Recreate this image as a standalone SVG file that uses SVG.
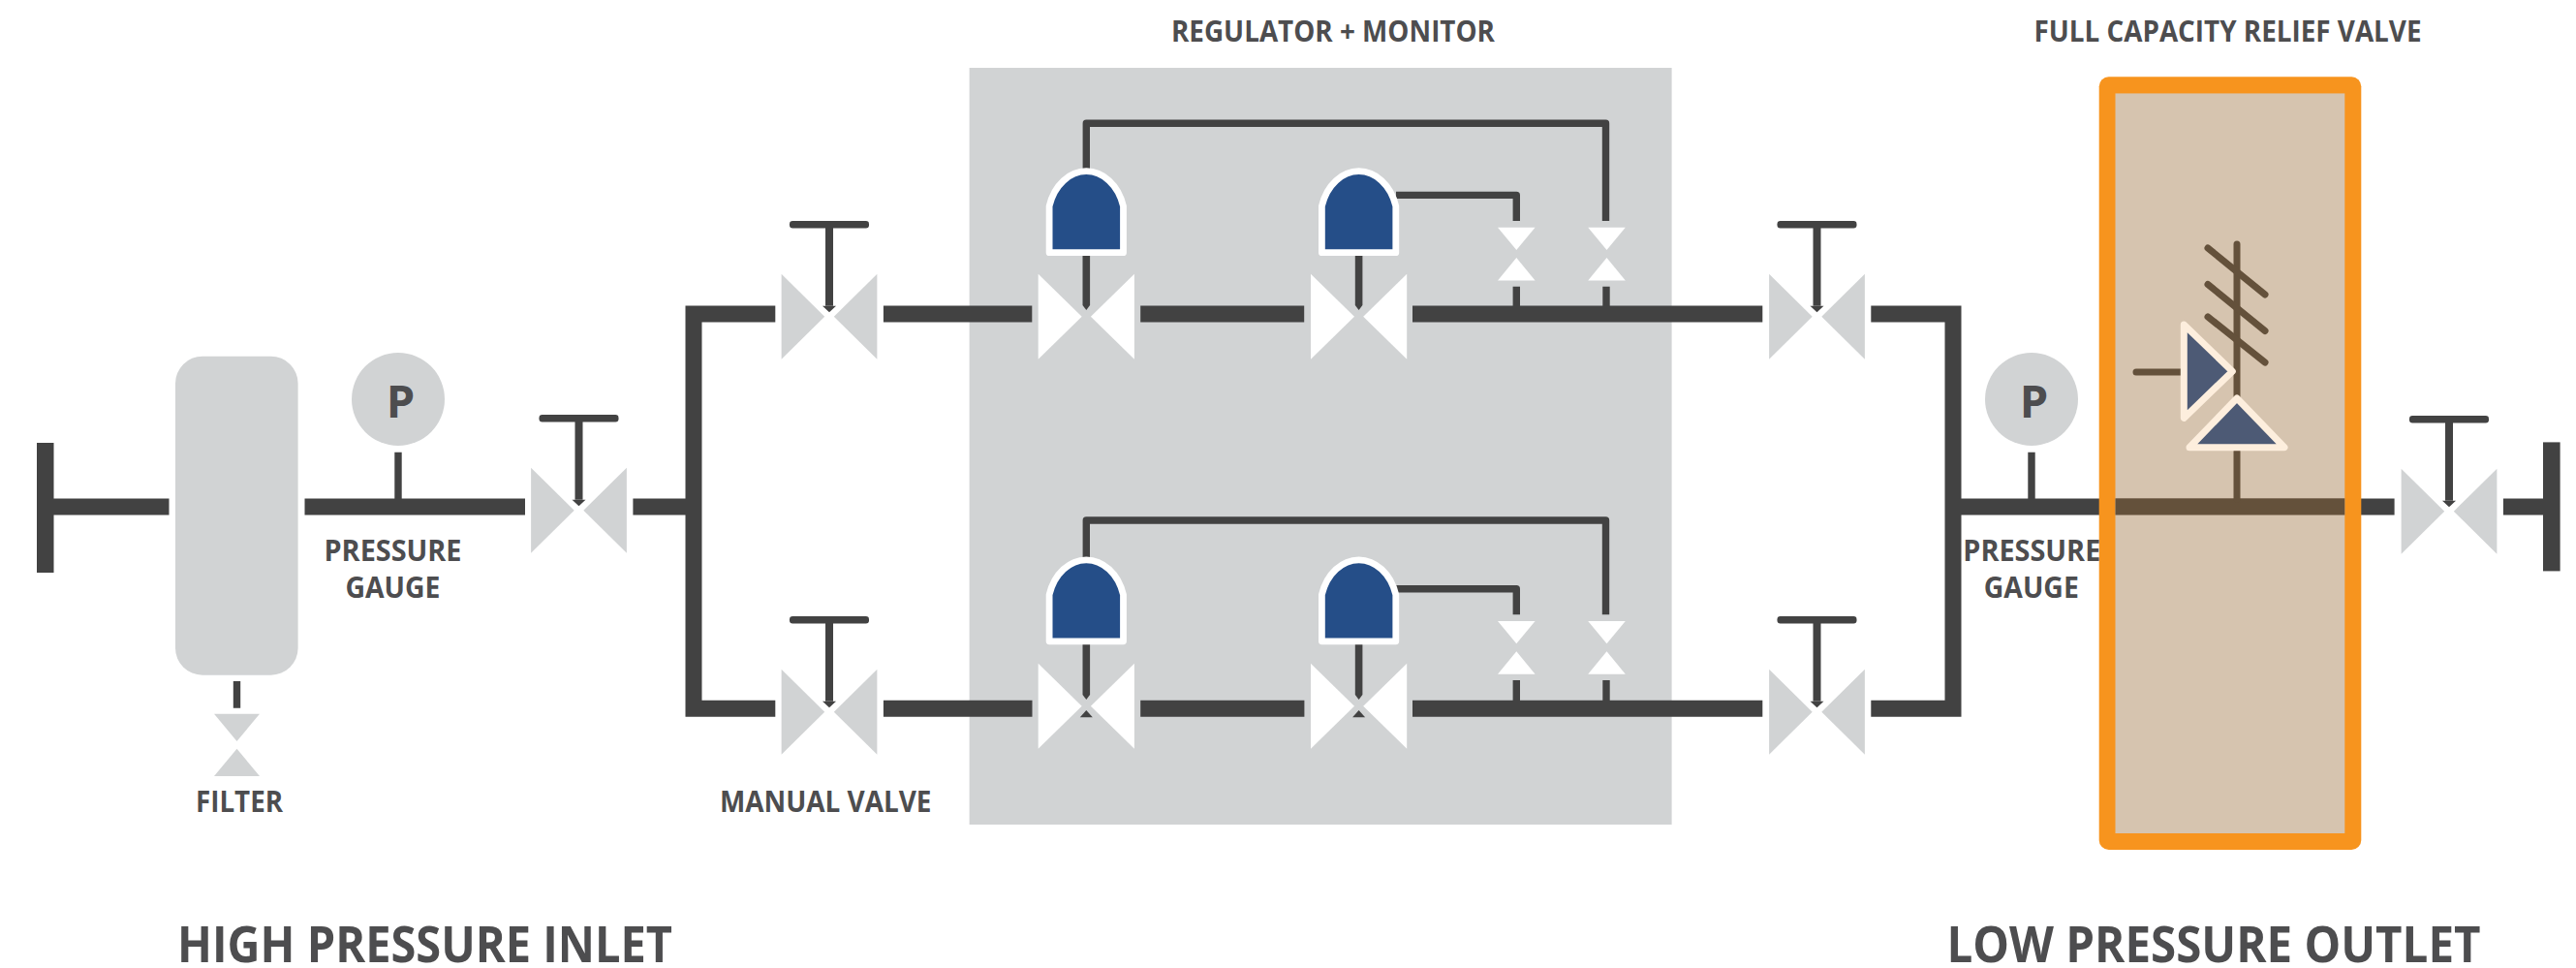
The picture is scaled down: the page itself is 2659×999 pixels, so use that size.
<svg xmlns="http://www.w3.org/2000/svg" xmlns:xlink="http://www.w3.org/1999/xlink" width="2659" height="999" viewBox="0 0 2659 999">
<style>
text{font-family:"Open Sans","Noto Sans","Liberation Sans",sans-serif;font-weight:700;fill:#4d4d4f}
.s{font-size:30px}.l{font-size:52px}.p{font-size:47px;text-anchor:middle}
.pipe{fill:none;stroke:#424242;stroke-width:17}
.thin{fill:none;stroke:#424242;stroke-width:7.4;stroke-linejoin:round}
.dark{fill:#424242}.g{fill:#d1d3d4}.w{fill:#fff}
.act{fill:#254e88;stroke:#fff;stroke-width:6.8;stroke-linejoin:round}
.br{fill:none;stroke:#64513b;stroke-width:7;stroke-linecap:round}
.tri{fill:#4d5a75;stroke:#fdeedd;stroke-width:7;stroke-linejoin:round}
</style>
<defs>
<g id="hand"><rect x="-41" y="-98.7" width="82" height="7.5" rx="3.2" class="dark"/><rect x="-4" y="-92" width="8" height="81" class="dark"/><polygon points="-7,-11 7,-11 0,-4.5" class="dark"/></g>
<g id="vg"><polygon points="-49.4,-44 -4.8,0 -49.4,44" class="g"/><polygon points="49.4,-44 4.8,0 49.4,44" class="g"/><use xlink:href="#hand"/></g>
<g id="vw"><polygon points="-49.6,-44 -4.6,0 -49.6,44" class="w"/><polygon points="49.6,-44 4.6,0 49.6,44" class="w"/></g>
<g id="sv"><polygon points="-19.3,0 19.3,0 0,23.3" class="w"/><polygon points="-19.3,54.7 19.3,54.7 0,31.3" class="w"/></g>
<path id="act" class="act" d="M-38.2 84V36C-33 14 -17 0 0 0C17 0 33 14 38.2 36V84Z"/>
<path id="stem" class="dark" d="M-3.8 0H3.8V52L0 57L-3.8 52Z"/>
<polygon id="dt" class="dark" points="0,0 6.5,7.2 -6.5,7.2"/>
</defs>

<g id="regulator-monitor-zone"><rect x="1000.6" y="70" width="725" height="781" class="g"/></g>

<g id="connectors">
<path class="pipe" d="M46 523H174.5M314.5 523H542M653.4 523H716"/>
<path class="pipe" d="M800.3 324H716V731.2H800.3"/>
<path class="pipe" d="M911.9 324H1065.3M1177.2 324H1346.2M1458 324H1819.3"/>
<path class="pipe" d="M911.9 731.2H1065.5M1177.2 731.2H1346.4M1458 731.2H1819.3"/>
<path class="pipe" d="M1931.3 324H2016V731.2H1931.3"/>
<path class="pipe" d="M2016 523H2168M2437 523H2471.6M2583.9 523H2634"/>
<path class="thin" d="M411 466.7V515M2097 466.7V515M244.5 703V730.7"/>
<path class="thin" d="M1121.3 174V127.2H1657.5V228M1441 201.4H1565.3V228"/>
<path class="thin" d="M1121.3 575V537H1657.5V634.3M1441 607.7H1565.3V634.3"/>
<path class="thin" d="M1565.3 295.7V317M1658 295.7V317M1565.3 702V723M1658 702V723"/>
</g>

<g id="inlet-end"><rect x="38" y="457" width="17.5" height="134" class="dark"/></g>
<g id="outlet-end"><rect x="2625" y="456.4" width="17.6" height="133" class="dark"/></g>

<g id="filter"><rect x="181" y="367.7" width="126.6" height="329" rx="28" class="g"/>
<polygon points="221,736.7 268,736.7 244.5,765" class="g"/><polygon points="221,801 268,801 244.5,772.7" class="g"/>
<text class="s" x="202" y="837.5" textLength="90" lengthAdjust="spacingAndGlyphs">FILTER</text></g>

<g id="gauge-inlet"><circle cx="411" cy="412" r="48" class="g"/><text class="p" x="413.5" y="431">P</text>
<text class="s" x="334.5" y="579" textLength="142" lengthAdjust="spacingAndGlyphs">PRESSURE</text>
<text class="s" x="356.5" y="616.5" textLength="98" lengthAdjust="spacingAndGlyphs">GAUGE</text></g>

<g id="valve-inlet"><use xlink:href="#vg" transform="translate(597.5 526.7)"/></g>
<g id="valve-manual-top"><use xlink:href="#vg" transform="translate(856 326.7)"/></g>
<g id="valve-manual-bottom"><use xlink:href="#vg" transform="translate(856 734.7)"/>
<text class="s" x="743" y="838" textLength="218.5" lengthAdjust="spacingAndGlyphs">MANUAL VALVE</text></g>
<g id="valve-out-top"><use xlink:href="#vg" transform="translate(1875.5 326.7)"/></g>
<g id="valve-out-bottom"><use xlink:href="#vg" transform="translate(1875.5 734.7)"/></g>
<g id="valve-outlet"><use xlink:href="#vg" transform="translate(2528 527.7)"/></g>

<g id="regulator-top-1"><use xlink:href="#vw" transform="translate(1121.3 326.7)"/><use xlink:href="#stem" transform="translate(1121.3 263)"/><use xlink:href="#act" transform="translate(1121.3 176.7)"/></g>
<g id="regulator-top-2"><use xlink:href="#vw" transform="translate(1402.6 326.7)"/><use xlink:href="#stem" transform="translate(1402.6 263)"/><use xlink:href="#act" transform="translate(1402.6 176.7)"/></g>
<g id="regulator-bottom-1"><use xlink:href="#vw" transform="translate(1121.3 728.7)"/><use xlink:href="#dt" transform="translate(1121.3 733)"/><use xlink:href="#stem" transform="translate(1121.3 665)"/><use xlink:href="#act" transform="translate(1121.3 577.8)"/></g>
<g id="regulator-bottom-2"><use xlink:href="#vw" transform="translate(1402.6 728.7)"/><use xlink:href="#dt" transform="translate(1402.6 733)"/><use xlink:href="#stem" transform="translate(1402.6 665)"/><use xlink:href="#act" transform="translate(1402.6 577.8)"/></g>

<g id="sense-top-1"><use xlink:href="#sv" transform="translate(1565.3 234.7)"/></g>
<g id="sense-top-2"><use xlink:href="#sv" transform="translate(1658.5 234.7)"/></g>
<g id="sense-bottom-1"><use xlink:href="#sv" transform="translate(1565.3 641)"/></g>
<g id="sense-bottom-2"><use xlink:href="#sv" transform="translate(1658.5 641)"/></g>

<g id="gauge-outlet"><circle cx="2097" cy="412" r="48" class="g"/><text class="p" x="2099.5" y="431">P</text>
<text class="s" x="2026.3" y="579" textLength="142" lengthAdjust="spacingAndGlyphs">PRESSURE</text>
<text class="s" x="2047.8" y="616.5" textLength="98" lengthAdjust="spacingAndGlyphs">GAUGE</text></g>

<g id="relief-valve">
<rect x="2166.7" y="79.3" width="270.6" height="797.7" rx="10" fill="#f7941e"/>
<rect x="2183.5" y="96.4" width="236.8" height="763.6" fill="#d6c4af"/>
<rect x="2183.5" y="514.3" width="236.8" height="17.2" fill="#64513b"/>
<path class="br" d="M2309 252V410M2309 466V515"/>
<path class="br" d="M2279 256L2338 304M2279 293.5L2338 341.5M2279 327L2338 374M2205 384H2252"/>
<path class="tri" d="M2254.3 335L2304.3 383.2L2254.3 431.4Z"/>
<path class="tri" d="M2309 411L2358 461.8H2260Z"/>
</g>

<g id="titles">
<text class="s" x="1209" y="43.3" textLength="334" lengthAdjust="spacingAndGlyphs">REGULATOR + MONITOR</text>
<text class="s" x="2099.5" y="43.3" textLength="400" lengthAdjust="spacingAndGlyphs">FULL CAPACITY RELIEF VALVE</text>
<text class="l" x="183" y="993.3" textLength="511" lengthAdjust="spacingAndGlyphs">HIGH PRESSURE INLET</text>
<text class="l" x="2009.5" y="993.3" textLength="551" lengthAdjust="spacingAndGlyphs">LOW PRESSURE OUTLET</text>
</g>
</svg>
